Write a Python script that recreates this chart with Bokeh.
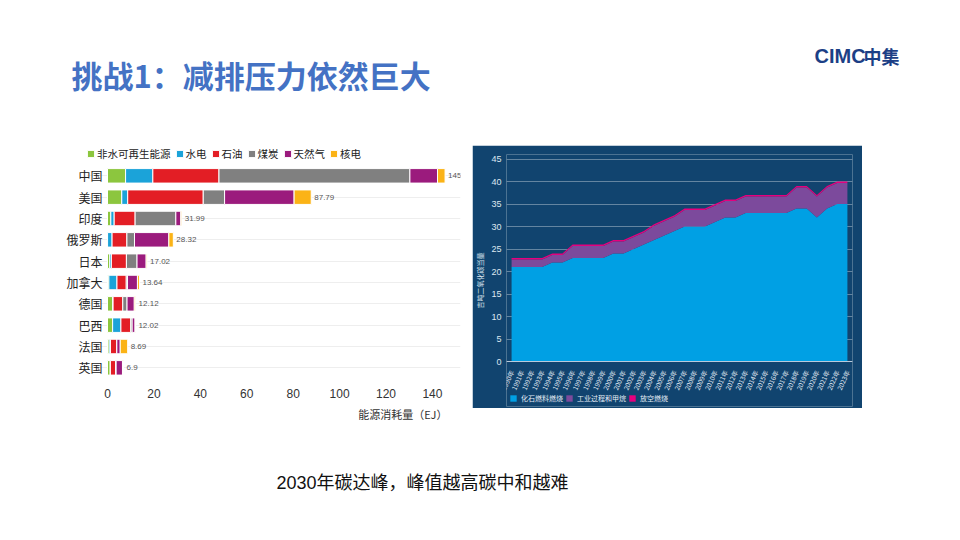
import math
import numpy as np
from bokeh.plotting import figure
from bokeh.models import (Range1d, FactorRange, Legend, LegendItem, Label, Title, Spacer,
                          FixedTicker, ColumnDataSource, CategoricalAxis)
from bokeh.layouts import column, row
from bokeh.embed import file_html
from bokeh.resources import INLINE
from bokeh.core.properties import value

CJK = "Noto Sans CJK SC"

# ---------------- data: left chart (EJ) ----------------
countries = ["中国", "美国", "印度", "俄罗斯", "日本", "加拿大", "德国", "巴西", "法国", "英国"]
renewables = [7.79, 6.15, 1.43, 0.03, 0.98, 0.59, 2.24, 2.21, 0.72, 1.19]
hydro = [11.74, 2.56, 1.45, 1.94, 0.70, 3.49, 0.17, 3.57, 0.56, 0.06]
oil = [28.50, 32.54, 9.02, 6.39, 6.47, 4.00, 4.17, 4.25, 2.60, 2.26]
coal = [82.27, 9.20, 17.54, 3.27, 4.57, 0.53, 1.84, 0.59, 0.14, 0.21]
gas = [11.90, 29.95, 2.15, 14.81, 3.94, 4.29, 3.12, 1.26, 1.46, 2.73]
nuclear = [3.25, 7.39, 0.40, 1.92, 0.38, 0.87, 0.57, 0.13, 3.21, 0.45]
total_labels = ["145.46", "87.79", "31.99", "28.32", "17.02", "13.64", "12.12", "12.02", "8.69", "6.9"]
energy_names = ["非水可再生能源", "水电", "石油", "煤炭", "天然气", "核电"]
energy_colors = ["#8cc63e", "#1ba3d9", "#e31e25", "#808080", "#9b1b7d", "#fbb316"]
x_ticks_left = [0, 20, 40, 60, 80, 100, 120, 140]

# ---------------- data: right chart (Gt CO2e) ----------------
years = ["1990年", "1991年", "1992年", "1993年", "1994年", "1995年", "1996年", "1997年",
         "1998年", "1999年", "2000年", "2001年", "2002年", "2003年", "2004年", "2005年",
         "2006年", "2007年", "2008年", "2009年", "2010年", "2011年", "2012年", "2013年",
         "2014年", "2015年", "2016年", "2017年", "2018年", "2019年", "2020年", "2021年",
         "2022年", "2023年"]
fossil = [21, 21, 21, 21, 22, 22, 23, 23, 23, 23, 24, 24, 25, 26, 27, 28, 29, 30, 30, 30,
          31, 32, 32, 33, 33, 33, 33, 33, 34, 34, 32, 34, 35, 35]
industry = [1.65, 1.65, 1.65, 1.65, 1.65, 1.65, 2.65, 2.65, 2.65, 2.65, 2.65, 2.65, 2.65, 2.65,
            3.15, 3.15, 3.15, 3.65, 3.65, 3.65, 3.65, 3.65, 3.65, 3.65, 3.65, 3.65, 3.65, 3.65,
            4.65, 4.65, 4.65, 4.65, 4.65, 4.65]
flaring = [0.35, 0.35, 0.35, 0.35, 0.35, 0.35, 0.35, 0.35, 0.35, 0.35, 0.35, 0.35, 0.35, 0.35,
           0.35, 0.35, 0.35, 0.35, 0.35, 0.35, 0.35, 0.35, 0.35, 0.35, 0.35, 0.35, 0.35, 0.35,
           0.35, 0.35, 0.35, 0.35, 0.35, 0.35]
emission_names = ["化石燃料燃烧", "工业过程和甲烷", "放空燃烧"]
emission_colors = ["#00a0e4", "#7c4a9c", "#e5007e"]
y_ticks_right = [0, 5, 10, 15, 20, 25, 30, 35, 40, 45]

# ---------------- header ----------------
header = figure(width=960, height=140, x_range=Range1d(0, 960), y_range=Range1d(0, 140),
                output_backend="svg", toolbar_location=None, x_axis_type=None, y_axis_type=None,
                min_border=0, outline_line_color=None)
header.grid.visible = False
header.add_layout(Label(x=71, y=66, text="挑战1：减排压力依然巨大", text_font=CJK,
                        text_font_style="bold", text_font_size="31px", text_color="#4472c4",
                        text_baseline="middle"))
header.add_layout(Label(x=814, y=85, text="CIMC", text_font="Liberation Sans",
                        text_font_style="bold", text_font_size="20px", text_color="#1c3f86",
                        text_baseline="middle"))
header.add_layout(Label(x=863, y=85, text="中集", text_font=CJK,
                        text_font_style="bold", text_font_size="18px", text_color="#1c3f86",
                        text_baseline="middle"))

# ---------------- left chart ----------------
pos = list(range(len(countries) - 1, -1, -1))
totals = list(np.sum([renewables, hydro, oil, coal, gas, nuclear], axis=0))
src = ColumnDataSource(dict(pos=pos, ren=renewables, hyd=hydro, oil=oil, coal=coal, gas=gas,
                            nuc=nuclear, total=totals, lab=total_labels))
left = figure(frame_width=374, frame_height=232, x_range=Range1d(-9.05, 152.1),
              y_range=Range1d(-0.5, 10.375), output_backend="svg", toolbar_location=None,
              min_border_left=34, min_border_right=12, min_border_top=6, min_border_bottom=47)
left.outline_line_color = None
bars = left.hbar_stack(["ren", "hyd", "oil", "coal", "gas", "nuc"], y="pos", height=0.68,
                       color=energy_colors, line_color="white", line_width=1, source=src)
left.text(x="total", y="pos", text="lab", source=src, x_offset=3, text_baseline="middle",
          text_font_size="8px", text_color="#555555", text_font=value("Liberation Sans"))
left.xgrid.visible = False
left.ygrid.grid_line_color = "#eeeeee"
left.yaxis.ticker = FixedTicker(ticks=pos)
left.yaxis.major_label_overrides = {p: c for p, c in zip(pos, countries)}
left.yaxis.major_label_text_font = CJK
left.yaxis.major_label_text_font_size = "12px"
left.yaxis.major_label_text_color = "#222222"
left.yaxis.axis_line_color = None
left.yaxis.major_tick_line_color = None
left.yaxis.minor_tick_line_color = None
left.yaxis.major_label_standoff = -22
left.xaxis.ticker = FixedTicker(ticks=x_ticks_left)
left.xaxis.axis_line_color = None
left.xaxis.major_tick_line_color = None
left.xaxis.minor_tick_line_color = None
left.xaxis.major_label_standoff = 4
left.xaxis.major_label_text_font_size = "12px"
left.xaxis.major_label_text_color = "#333333"
left.xaxis.major_label_text_font = "Liberation Sans"
left.add_layout(Title(text="能源消耗量（EJ）", align="right", text_font=CJK, text_font_size="11px",
                      text_font_style="normal", text_color="#333333", offset=13, standoff=6),
                "below")
leg1 = Legend(items=[LegendItem(label=n, renderers=[r]) for n, r in zip(energy_names, bars)],
              orientation="horizontal", location=(-2, 215), glyph_width=9, glyph_height=9,
              label_height=12, label_standoff=2, spacing=4, padding=2, margin=0,
              label_text_font=CJK, label_text_font_size="10.5px", label_text_color="#222222",
              border_line_alpha=0, background_fill_alpha=1)
left.add_layout(leg1, "center")

# ---------------- right chart ----------------
src2 = ColumnDataSource(dict(year=years, fossil=fossil, industry=industry, flaring=flaring))
right = figure(frame_width=346, frame_height=252, x_range=FactorRange(factors=years),
               y_range=Range1d(-10, 46), output_backend="svg", toolbar_location=None,
               x_axis_location=None,
               min_border_left=31, min_border_right=10, min_border_top=9, min_border_bottom=2)
right.background_fill_color = "#11446f"
right.border_fill_color = "#11446f"
right.outline_line_color = None
areas = right.varea_stack(["fossil", "industry", "flaring"], x="year", color=emission_colors,
                          source=src2)
right.xgrid.visible = False
right.ygrid.grid_line_color = "#ffffff"
right.ygrid.grid_line_alpha = 0.35
right.yaxis.ticker = FixedTicker(ticks=y_ticks_right)
right.yaxis.axis_line_color = None
right.yaxis.major_tick_line_color = None
right.yaxis.minor_tick_line_color = None
right.yaxis.major_tick_out = 0
right.yaxis.major_tick_in = 0
right.yaxis.major_label_text_color = "#dde7f0"
right.yaxis.major_label_text_font_size = "9px"
right.yaxis.major_label_standoff = 5
right.yaxis.axis_label = "吉吨二氧化碳当量"
right.yaxis.axis_label_text_font = CJK
right.yaxis.axis_label_text_font_size = "7px"
right.yaxis.axis_label_text_font_style = "normal"
right.yaxis.axis_label_text_color = "#dde7f0"
right.yaxis.axis_label_standoff = 3
xax = CategoricalAxis(fixed_location=0, axis_line_color="#b9cadb", major_tick_line_color=None,
                      major_label_orientation=1.15, major_label_text_font_size="6.5px",
                      major_label_text_color="#e6eef6", major_label_text_font=CJK,
                      major_label_standoff=3)
right.add_layout(xax, "below")
leg2 = Legend(items=[LegendItem(label=n, renderers=[r]) for n, r in zip(emission_names, areas)],
              orientation="horizontal", location=(1, 1), glyph_width=8, glyph_height=8,
              label_height=10, label_standoff=4, spacing=2, padding=2, margin=0,
              label_text_font=CJK, label_text_font_size="7px", label_text_color="#e6eef6",
              border_line_alpha=0, background_fill_alpha=0)
right.add_layout(leg2, "center")

# ---------------- caption ----------------
caption = figure(width=960, height=115, x_range=Range1d(0, 960), y_range=Range1d(0, 115),
                 output_backend="svg", toolbar_location=None, x_axis_type=None, y_axis_type=None,
                 min_border=0, outline_line_color=None)
caption.grid.visible = False
caption.add_layout(Label(x=276, y=58, text="2030年碳达峰，峰值越高碳中和越难",
                         text_font="Liberation Sans, Noto Sans CJK SC",
                         text_font_size="18px", text_color="#111111", text_baseline="middle"))

layout = column(header,
                row(Spacer(width=52, height=285), left,
                    column(Spacer(width=390, height=5), right)),
                caption)

open("out.html", "w").write(file_html(layout, INLINE))
